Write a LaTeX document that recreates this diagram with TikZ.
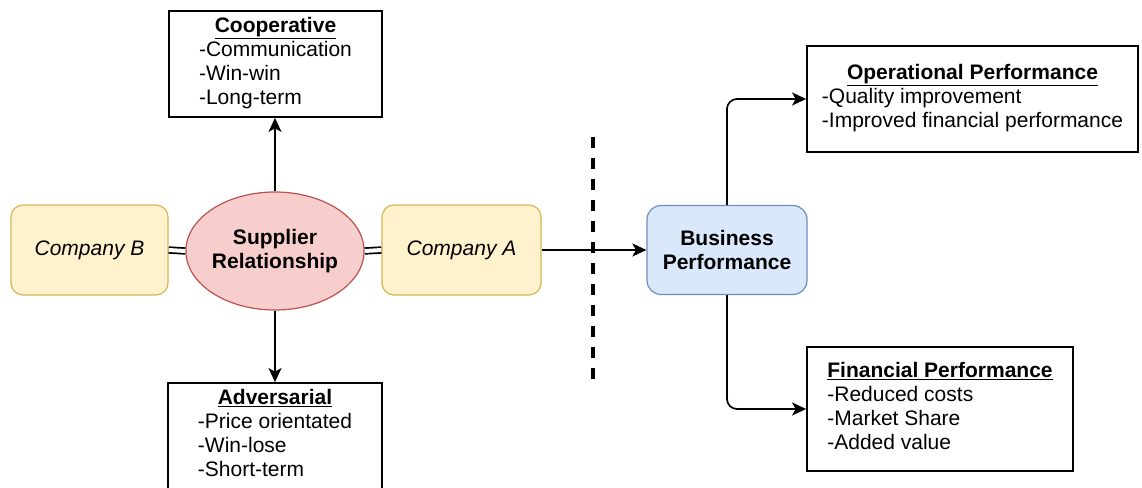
\documentclass[tikz,border=0pt]{standalone}
\usepackage{fontspec}
\setmainfont{Liberation Sans}
\usetikzlibrary{arrows.meta,shapes.geometric}
\definecolor{yfill}{HTML}{FFF2CC}
\definecolor{ystroke}{HTML}{D6B656}
\definecolor{rfill}{HTML}{F8CECC}
\definecolor{rstroke}{HTML}{B85450}
\definecolor{bfill}{HTML}{DAE8FC}
\definecolor{bstroke}{HTML}{6C8EBF}
\newcommand\boxlist[2]{\begin{tabular}{@{}l@{}}\multicolumn{1}{@{}c@{}}{\textbf{\underline{#1}}}\\#2\end{tabular}}
\begin{document}
\begin{tikzpicture}[x=1pt,y=-1pt,
  every node/.style={inner sep=0pt, font=\fontsize{21}{24}\selectfont},
  company/.style={draw=ystroke, fill=yfill, rounded corners=12pt, line width=1.2pt,
    minimum width=157pt, minimum height=90pt, font=\fontsize{21}{24}\selectfont\itshape},
  relnode/.style={ellipse, draw=rstroke, fill=rfill, line width=1.2pt,
    minimum width=174pt, minimum height=118pt, align=center,
    font=\fontsize{21}{24}\selectfont\bfseries},
  bpnode/.style={draw=bstroke, fill=bfill, rounded corners=14pt, line width=1.2pt,
    minimum width=160pt, minimum height=89pt, align=center,
    font=\fontsize{21}{24}\selectfont\bfseries},
  listbox/.style={draw=black, line width=1.8pt, fill=white},
  conn/.style={line width=1.7pt, -{Stealth[length=14pt,width=13pt,inset=3.5pt]}},
  dbl/.style={double, double distance=4pt, line width=1.7pt},
  sep/.style={line width=3.5pt, dash pattern=on 11pt off 10pt}
]
\useasboundingbox (0,0) rectangle (1142,487);

\node[company] (B) at (89.5,250) {Company B};
\node[relnode] (SR) at (275,251) {Supplier\\Relationship};
\node[company, minimum width=159pt] (A) at (461.5,250) {Company A};
\node[bpnode] (BP) at (727,250) {Business\\Performance};

\node[listbox, minimum width=213pt, minimum height=106pt] (C) at (275.5,64)
  {\boxlist{Cooperative}{-Communication\\-Win-win\\-Long-term}};
\node[listbox, minimum width=214pt, minimum height=106pt] (D) at (275,436)
  {\boxlist{Adversarial}{-Price orientated\\-Win-lose\\-Short-term}};
\node[listbox, minimum width=331pt, minimum height=106pt] (O) at (972.5,99)
  {\boxlist{Operational Performance}{-Quality improvement\\-Improved financial performance}};
\node[listbox, minimum width=266pt, minimum height=124pt] (F) at (940,409)
  {\boxlist{Financial Performance}{-Reduced costs\\-Market Share\\-Added value}};

\coordinate (d1) at (593,137);
\coordinate (d2) at (593,382);
\draw[sep] (d1) -- (d2);

\draw[dbl] (B.east) -- (SR.west);
\draw[dbl] (SR.east) -- (A.west);
\draw[conn] (SR.north) -- (SR.north |- C.south);
\draw[conn] (SR.south) -- (SR.south |- D.north);
\draw[conn] (A.east) -- (BP.west);
\draw[conn, rounded corners=10pt] (BP.north) |- (O.west);
\draw[conn, rounded corners=10pt] (BP.south) |- (F.west);
\end{tikzpicture}
\end{document}
